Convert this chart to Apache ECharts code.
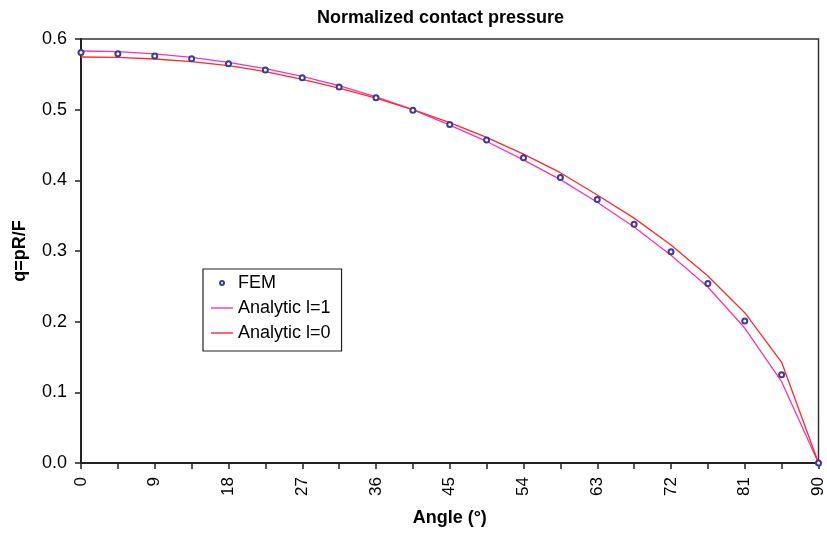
<!DOCTYPE html>
<html>
<head>
<meta charset="utf-8">
<script src="https://cdn.jsdelivr.net/npm/echarts@6/dist/echarts.min.js"></script>
<style>
html,body{margin:0;padding:0;background:#fff;}
#c{width:827px;height:533px;}
</style>
</head>
<body>
<div id="c"></div>
<script>
const angles = ['0','4.5','9','13.5','18','22.5','27','31.5','36','40.5','45','49.5','54','58.5','63','67.5','72','76.5','81','85.5','90'];
const fem = [0.581, 0.579, 0.576, 0.572, 0.565, 0.556, 0.545, 0.532, 0.517, 0.499, 0.479, 0.457, 0.432, 0.404, 0.373, 0.338, 0.299, 0.254, 0.201, 0.125, 0.0];
const analyticL1 = [0.583, 0.582, 0.579, 0.574, 0.567, 0.558, 0.547, 0.534, 0.518, 0.500, 0.478, 0.455, 0.429, 0.401, 0.369, 0.334, 0.294, 0.249, 0.191, 0.115, 0.0];
const analyticL0 = [0.5745, 0.574, 0.5717, 0.568, 0.5622, 0.5537, 0.543, 0.5306, 0.5165, 0.500, 0.4816, 0.4608, 0.4372, 0.4108, 0.3792, 0.3465, 0.3085, 0.2646, 0.2127, 0.1425, 0.0];
const yTicks = ['0.0','0.1','0.2','0.3','0.4','0.5','0.6'];

const FONT = '"Liberation Sans", Arial, sans-serif';
const LINE_ICON = 'path://M0,0 L22,0 L22,1.4 L0,1.4 Z';
const chart = echarts.init(document.getElementById('c'));
chart.setOption({
  animation: false,
  backgroundColor: '#fff',
  title: {
    text: 'Normalized contact pressure',
    left: 312, top: 4,
    textStyle: {fontFamily: FONT, fontSize: 18, fontWeight: 'bold', color: '#000'}
  },
  grid: {
    left: 81, right: 6, top: 39, bottom: 70,
    show: true, borderColor: '#333', borderWidth: 1.5, backgroundColor: 'transparent'
  },
  legend: {
    orient: 'vertical',
    left: 203, top: 269,
    padding: [5, 11, 9, 8],
    itemGap: 7,
    itemWidth: 22, itemHeight: 4,
    borderColor: '#222', borderWidth: 1.2,
    backgroundColor: '#fff',
    textStyle: {fontFamily: FONT, fontSize: 18, color: '#000'},
    data: [
      {name: 'FEM', icon: 'emptyCircle'},
      {name: 'Analytic l=1', icon: LINE_ICON},
      {name: 'Analytic l=0', icon: LINE_ICON}
    ]
  },
  xAxis: {
    type: 'category',
    data: angles,
    boundaryGap: false,
    name: 'Angle (°)',
    nameLocation: 'middle',
    nameGap: 46,
    nameTextStyle: {fontFamily: FONT, fontSize: 18, fontWeight: 'bold', color: '#000'},
    axisLine: {lineStyle: {color: '#222', width: 2}},
    axisTick: {show: true, interval: 0, length: 6, lineStyle: {color: '#222', width: 1.5}},
    axisLabel: {interval: 1, rotate: 90, margin: 14, fontFamily: FONT, fontSize: 17, color: '#000'},
    splitLine: {show: false}
  },
  yAxis: {
    type: 'value',
    min: 0, max: 0.6, interval: 0.1,
    name: 'q=pR/F',
    nameLocation: 'middle',
    nameGap: 52,
    nameRotate: 90,
    nameTextStyle: {fontFamily: FONT, fontSize: 18, fontWeight: 'bold', color: '#000'},
    axisLine: {show: true, lineStyle: {color: '#222', width: 2}},
    axisTick: {show: true, length: 6, lineStyle: {color: '#222', width: 1.5}},
    axisLabel: {margin: 14, fontFamily: FONT, fontSize: 18, color: '#000',
      formatter: function (v) { return yTicks[Math.round(v * 10)]; }},
    splitLine: {show: false}
  },
  series: [
    {
      name: 'Analytic l=1', type: 'line', data: analyticL1,
      symbol: 'none', color: '#ff33aa',
      lineStyle: {color: '#ff33aa', width: 1.3}, z: 2
    },
    {
      name: 'Analytic l=0', type: 'line', data: analyticL0,
      symbol: 'none', color: '#ff2a2a',
      lineStyle: {color: '#ff2a2a', width: 1.3}, z: 2
    },
    {
      name: 'FEM', type: 'line', data: fem,
      symbol: 'emptyCircle', symbolSize: 5, showSymbol: true,
      color: '#3a3aa0',
      itemStyle: {color: '#3a3aa0', borderWidth: 1},
      lineStyle: {width: 0, opacity: 0}, z: 5
    }
  ]
});
</script>
</body>
</html>
